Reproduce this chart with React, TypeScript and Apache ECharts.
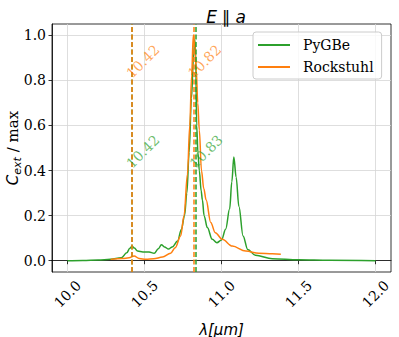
import React, { useEffect, useRef } from "react";
import * as echarts from "echarts";

const xTicks = [10.0, 10.5, 11.0, 11.5, 12.0];
const yTicks = [0.0, 0.2, 0.4, 0.6, 0.8, 1.0];

const pygbeX = [10.0, 10.1, 10.2, 10.28, 10.35, 10.385, 10.405, 10.42, 10.435, 10.455, 10.49, 10.53, 10.563, 10.59, 10.61, 10.63, 10.656, 10.68, 10.715, 10.74, 10.76, 10.775, 10.79, 10.805, 10.818, 10.826, 10.832, 10.839, 10.847, 10.856, 10.868, 10.876, 10.887, 10.908, 10.94, 10.97, 11.0, 11.027, 11.053, 11.067, 11.08, 11.095, 11.113, 11.14, 11.17, 11.22, 11.33, 11.5, 11.7, 12.0];
const pygbeY = [0.0, 0.001, 0.003, 0.006, 0.013, 0.035, 0.055, 0.064, 0.056, 0.043, 0.039, 0.039, 0.033, 0.053, 0.071, 0.061, 0.052, 0.061, 0.087, 0.14, 0.2, 0.3, 0.48, 0.72, 0.9, 0.98, 0.93, 0.6, 0.48, 0.4, 0.31, 0.27, 0.2, 0.147, 0.095, 0.08, 0.092, 0.14, 0.23, 0.35, 0.46, 0.37, 0.24, 0.11, 0.05, 0.024, 0.009, 0.004, 0.002, 0.0];

const rockX = [10.28, 10.358, 10.4, 10.433, 10.466, 10.51, 10.56, 10.617, 10.67, 10.7, 10.735, 10.757, 10.779, 10.794, 10.806, 10.817, 10.826, 10.836, 10.846, 10.856, 10.87, 10.885, 10.9, 10.93, 10.96, 11.005, 11.07, 11.157, 11.243, 11.33, 11.385];
const rockY = [0.006, 0.01, 0.013, 0.021, 0.01, 0.006, 0.009, 0.016, 0.033, 0.058, 0.11, 0.2, 0.384, 0.6, 0.82, 1.0, 0.96, 0.85, 0.7, 0.58, 0.4, 0.32, 0.27, 0.17, 0.124, 0.095, 0.065, 0.043, 0.033, 0.031, 0.029];

const pygbePeaks = [10.42, 10.83];
const rockPeaks = [10.42, 10.82];
const pygbeTextY = 0.4;
const rockTextY = 0.8;

const GREEN = "#2ca02c";
const ORANGE = "#ff7f0e";
const SERIF = "DejaVu Serif";
const SANS = "DejaVu Sans";

export default function App() {
  const ref = useRef<HTMLDivElement>(null);
  useEffect(() => {
    if (!ref.current) return;
    const chart = echarts.init(ref.current, null, { renderer: "svg" });
    chart.setOption({
      animation: false,
      backgroundColor: "#ffffff",
      title: {
        text: "{i|E} {n|∥} {i|a}",
        left: 221,
        top: 3,
        textAlign: "center",
        textStyle: {
          fontWeight: "normal",
          rich: {
            i: { fontFamily: SANS, fontStyle: "italic", fontWeight: "normal", fontSize: 17, color: "#000" },
            n: { fontFamily: SANS, fontWeight: "normal", fontSize: 17, color: "#000" },
          },
        },
      },
      legend: {
        data: ["PyGBe", "Rockstuhl"],
        orient: "vertical",
        left: 253,
        top: 32,
        padding: [6, 8, 5, 5],
        itemGap: 8,
        itemWidth: 32,
        itemHeight: 2,
        icon: "rect",
        backgroundColor: "rgba(255,255,255,0.8)",
        borderColor: "#cccccc",
        borderWidth: 1,
        borderRadius: 3,
        textStyle: { fontFamily: SERIF, fontSize: 14, color: "#000", padding: [0, 0, 0, 8] },
      },
      grid: {
        left: 52,
        right: 8,
        top: 24,
        bottom: 65,
        containLabel: false,
        outerBoundsMode: "none",
        show: true,
        borderColor: "#000",
        borderWidth: 0.8,
        backgroundColor: "transparent",
      },
      xAxis: {
        type: "value",
        min: 9.9,
        max: 12.1,
        name: "λ[μm]",
        nameLocation: "middle",
        nameGap: 50,
        nameTextStyle: { fontFamily: SANS, fontStyle: "italic", fontSize: 15, color: "#000" },
        axisLine: { show: true, lineStyle: { color: "#000", width: 0.8 } },
        axisTick: { show: true, length: 3.5, lineStyle: { color: "#000", width: 0.8 }, customValues: xTicks },
        axisLabel: {
          customValues: xTicks,
          rotate: 45,
          align: "center",
          verticalAlign: "middle",
          margin: 22,
          fontFamily: SERIF,
          fontSize: 14,
          color: "#000",
          formatter: (v: number) => v.toFixed(1),
        },
        splitLine: { show: true, lineStyle: { color: "#d5d5d5", width: 0.8 } },
      },
      yAxis: {
        type: "value",
        min: -0.05,
        max: 1.05,
        axisLine: { show: true, lineStyle: { color: "#000", width: 0.8 } },
        axisTick: { show: true, length: 3.5, lineStyle: { color: "#000", width: 0.8 }, customValues: yTicks },
        axisLabel: {
          customValues: yTicks,
          margin: 6,
          fontFamily: SERIF,
          fontSize: 14,
          color: "#000",
          formatter: (v: number) => v.toFixed(1),
        },
        splitLine: { show: true, lineStyle: { color: "#d5d5d5", width: 0.8 } },
      },
      series: [
        {
          name: "PyGBe",
          type: "line",
          data: pygbeX.map((x, i) => [x, pygbeY[i]]),
          symbol: "none",
          smooth: 0.35,
          smoothMonotone: "x",
          lineStyle: { color: GREEN, width: 1.5 },
          itemStyle: { color: GREEN },
          markLine: {
            silent: true,
            symbol: "none",
            label: { show: false },
            lineStyle: { color: GREEN, width: 1.5, type: [5, 2.5], opacity: 1 },
            data: pygbePeaks.map((v) => ({ xAxis: v })),
          },
          z: 2,
        },
        {
          name: "Rockstuhl",
          type: "line",
          data: rockX.map((x, i) => [x, rockY[i]]),
          symbol: "none",
          smooth: 0.35,
          smoothMonotone: "x",
          lineStyle: { color: ORANGE, width: 1.5 },
          itemStyle: { color: ORANGE },
          markLine: {
            silent: true,
            symbol: "none",
            label: { show: false },
            lineStyle: { color: ORANGE, width: 1.5, type: [5, 2.5], opacity: 1 },
            data: rockPeaks.map((v) => ({ xAxis: v })),
          },
          z: 3,
        },
      ],
    });
    const mkText = (peaks: number[], y: number, color: string) =>
      peaks.map((v) => {
        const p = chart.convertToPixel({ gridIndex: 0 }, [v, y]) as number[];
        return {
          type: "text",
          x: p[0] + 1.5,
          y: p[1],
          rotation: Math.PI / 4,
          silent: true,
          z: 10,
          style: {
            text: v.toFixed(2),
            fill: color,
            font: `14px '${SERIF}'`,
            textAlign: "left",
            textVerticalAlign: "bottom",
          },
        };
      });
    chart.setOption({
      graphic: [
        {
          type: "text",
          x: 13,
          y: 148,
          rotation: Math.PI / 2,
          silent: true,
          style: {
            text: "{c|C}{s|ext}{n| / max}",
            textAlign: "center",
            textVerticalAlign: "middle",
            fill: "#000",
            rich: {
              c: { fontFamily: SANS, fontStyle: "italic", fontSize: 15, fill: "#000" },
              s: { fontFamily: SANS, fontStyle: "italic", fontSize: 11, fill: "#000", padding: [8, 0, 0, 0] },
              n: { fontFamily: SERIF, fontSize: 15, fill: "#000" },
            },
          },
        },
        ...mkText(pygbePeaks, pygbeTextY, "rgba(44,160,44,0.7)"),
        ...mkText(rockPeaks, rockTextY, "rgba(255,127,14,0.7)"),
      ],
    });
    return () => chart.dispose();
  }, []);
  return (
    <div
      ref={ref}
      style={{ position: "fixed", left: 0, top: 0, width: 399, height: 337 }}
    />
  );
}
